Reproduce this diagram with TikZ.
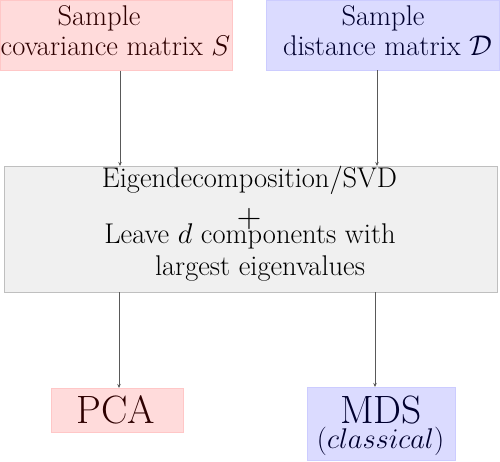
\RequirePackage{fix-cm}
\documentclass[tikz,border=0pt]{standalone}
\usetikzlibrary{arrows.meta}
\begin{document}
\begin{tikzpicture}[x=1pt,y=-1pt,
  box/.style={draw, inner sep=0pt, outer sep=0pt, minimum width=#1},
  redbox/.style={box=#1, fill=red!14, draw=red!22},
  bluebox/.style={box=#1, fill=blue!14, draw=blue!20},
  graybox/.style={box=#1, fill=black!6, draw=black!25},
  txt/.style={inner sep=0pt, anchor=base, font=\fontsize{28.5}{34}\selectfont},
  big/.style={inner sep=0pt, anchor=base, font=\fontsize{39.5}{44}\selectfont},
  redtxt/.style={text=red!18!black},
  bluetxt/.style={text=blue!18!black},
  arr/.style={draw=black!65, line width=0.8pt, -{Stealth[length=4pt,width=3.5pt]}}]
\useasboundingbox (0,0) rectangle (500,461);
% boxes
\node[redbox=232, minimum height=70] (S) at (116,35.5) {};
\node[bluebox=233, minimum height=70] (D) at (382.5,35) {};
\node[graybox=493, minimum height=126] (mid) at (251,229) {};
\node[redbox=132, minimum height=44] (pca) at (117,410) {};
\node[bluebox=148, minimum height=73] (mds) at (381,423.5) {};
% texts
\node[txt, redtxt] (s1) at (99,25) {Sample};
\node[txt, redtxt] (s2) at (115.5,55) {covariance matrix $S$};
\node[txt, bluetxt] (d1) at (383,25) {Sample};
\node[txt, bluetxt] (d2) at (387.5,55) {distance matrix $\mathcal{D}$};
\node[txt] (m1) at (249.5,187) {Eigendecomposition/SVD};
\node[txt, font=\fontsize{34}{40}\selectfont] (m2) at (249,227.5) {+};
\node[txt] (m3) at (250,243) {Leave $d$ components with};
\node[txt] (m4) at (260,275) {largest eigenvalues};
\node[big, redtxt] (p1) at (116,423) {PCA};
\node[big, bluetxt] (q1) at (381,423) {MDS};
\node[txt, bluetxt] (q2) at (380.5,448) {$(classical)$};
% arrows
\draw[arr] ([xshift=4pt]S.south) -- ([xshift=4pt]S.south |- mid.north);
\draw[arr] ([xshift=-5.5pt]D.south) -- ([xshift=-5.5pt]D.south |- mid.north);
\draw[arr] ([xshift=2pt]pca.north |- mid.south) -- ([xshift=2pt]pca.north);
\draw[arr] ([xshift=-6pt]mds.north |- mid.south) -- ([xshift=-6pt]mds.north);
\end{tikzpicture}
\end{document}
